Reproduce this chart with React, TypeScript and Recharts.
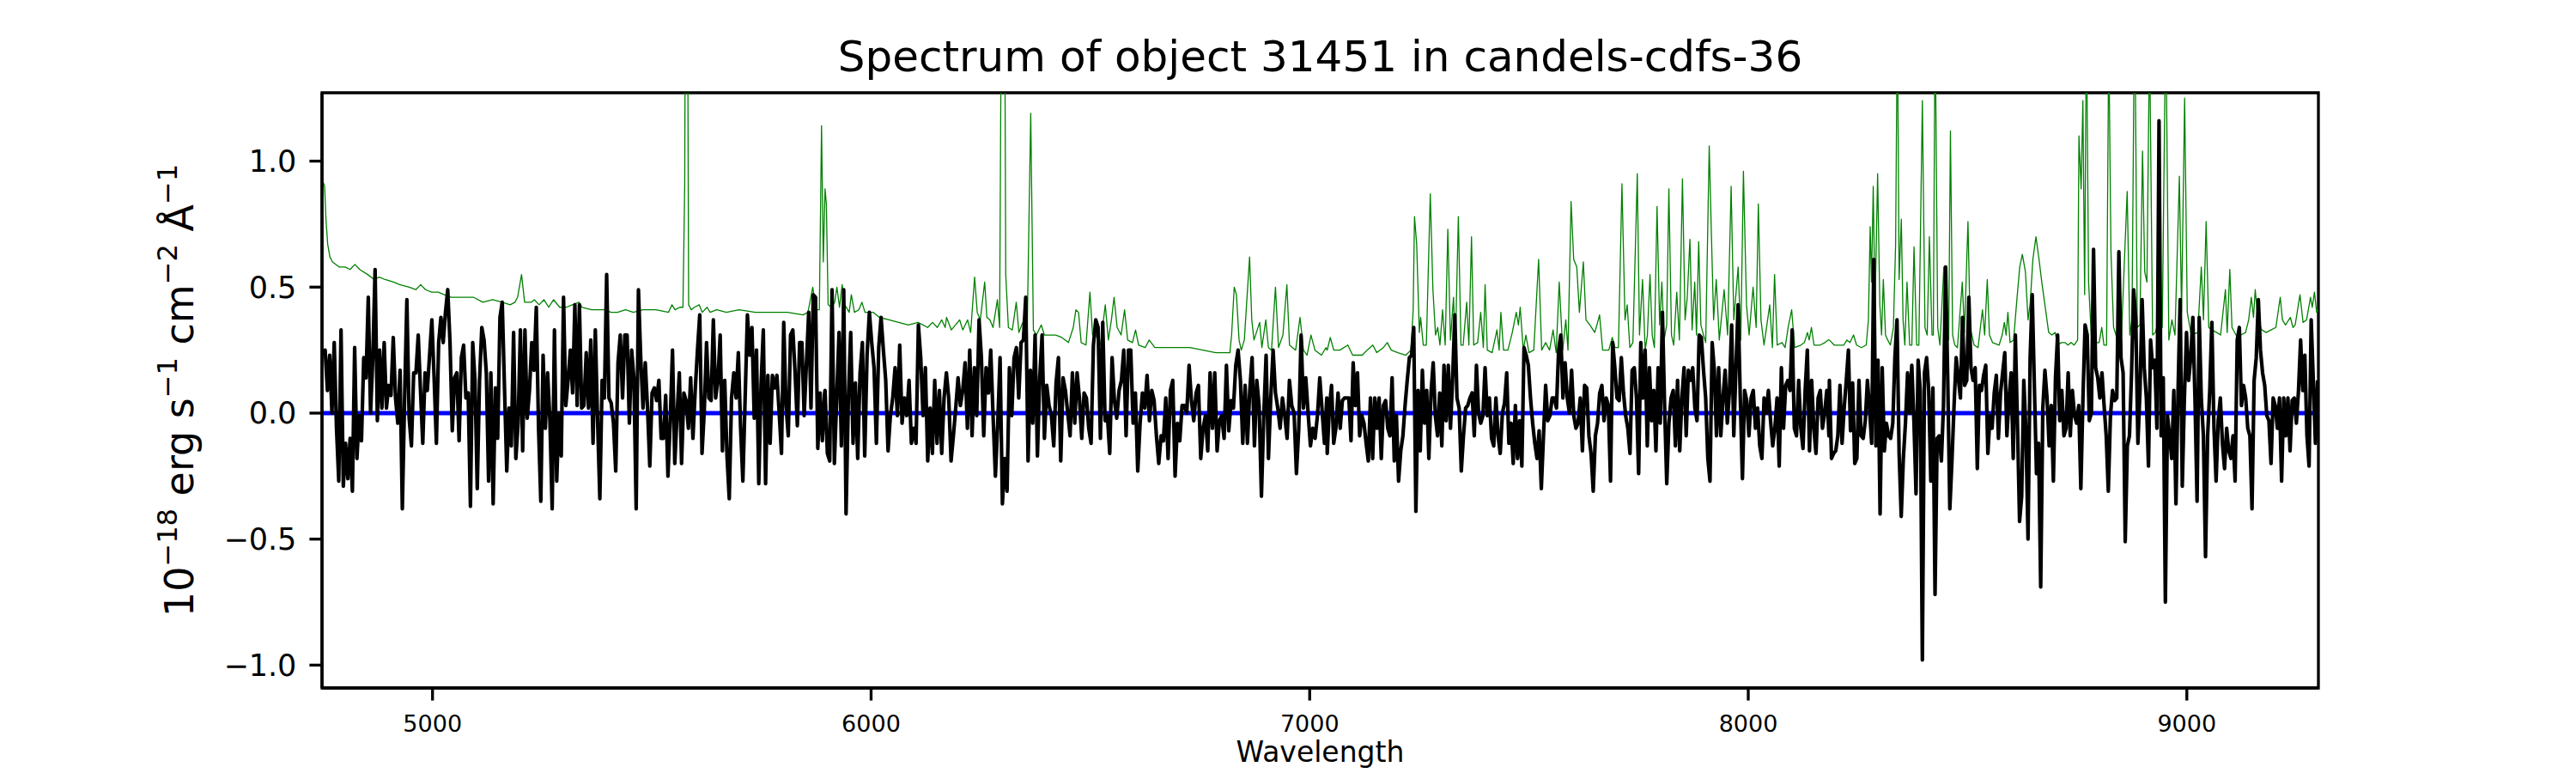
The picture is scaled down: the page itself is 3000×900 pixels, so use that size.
import React from 'react';
import { LineChart, Line, XAxis, YAxis, ReferenceArea, Label } from 'recharts';

const FONT = '"DejaVu Sans", Verdana, sans-serif';

// ---------- axes / text ----------
const titleText = 'Spectrum of object 31451 in candels-cdfs-36';
const xLabelText = 'Wavelength';
const xTicks = [5000, 6000, 7000, 8000, 9000];
const yTicks = [-1.0, -0.5, 0.0, 0.5, 1.0];
const xDomain: [number, number] = [4748, 9300];
const yDomain: [number, number] = [-1.0907, 1.2713];

// ---------- observed flux (black), four wavelength panels, evenly sampled ----------
const fluxSpanA = [4750, 5894];
const fluxA = [0.23,0.25,0.09,0.23,0.00,0.28,-0.06,-0.27,0.33,-0.29,-0.12,-0.26,-0.10,-0.31,0.26,-0.18,-0.01,-0.11,0.22,0.14,0.46,0.00,0.22,0.57,-0.03,0.25,0.02,0.28,0.02,0.11,0.07,0.30,0.06,-0.04,0.17,-0.38,0.06,0.45,-0.02,-0.13,0.16,0.16,0.31,0.09,-0.12,0.16,0.09,0.23,0.37,0.14,-0.12,0.28,0.38,0.28,0.40,0.49,0.28,-0.07,0.14,0.16,-0.11,0.22,0.27,0.06,0.08,-0.37,0.28,0.13,-0.30,0.13,0.34,0.29,0.16,-0.27,0.16,-0.36,0.10,-0.10,0.38,0.44,0.10,-0.23,0.02,-0.13,0.32,-0.18,-0.04,0.33,-0.15,0.33,-0.02,0.09,0.28,0.17,0.42,-0.06,-0.35,0.23,-0.06,0.16,-0.03,-0.38,0.33,-0.27,0.00,-0.17,0.46,0.03,0.13,0.25,0.08,0.43,0.03,0.43,0.02,0.03,0.24,0.02,0.29,-0.12,0.33,-0.03,-0.34,0.13,0.06,0.55,0.06,0.04,-0.04,-0.23,0.20,0.31,0.06,0.31,0.31,-0.04,0.25,0.14,-0.38,0.49,0.22,0.02,0.20,0.02,-0.21,0.08,0.10,0.05,0.13,-0.10,-0.10,0.07,-0.25,-0.03,0.25,-0.20,-0.01,0.16,-0.20,0.08,0.05,-0.06,0.14,-0.10,0.09,0.25,0.39,-0.16,0.01,0.28,0.06,0.05,0.37,0.06,0.13,0.31,-0.15,0.13,-0.17,-0.34,0.06,0.16,0.06,0.24,-0.06,-0.27,0.06,0.39,0.23,0.34,-0.02,0.25,-0.28,0.11,0.33,-0.28,0.15,-0.12,0.15,0.10,0.15,0.00,-0.16,0.36,0.03,-0.09,0.31,0.33,0.16,-0.05,0.28,0.28,-0.01,0.20,0.40,0.02,0.47,0.46,-0.14,0.08,-0.11,0.08];

const fluxSpanB = [5895, 7039];
const fluxB = [0.09,-0.16,-0.19,0.49,-0.20,0.06,0.32,-0.13,0.49,-0.40,0.06,0.32,-0.12,0.12,-0.18,0.16,0.28,-0.17,0.23,0.40,0.28,0.18,-0.12,0.26,0.38,0.25,0.13,-0.15,-0.01,0.06,0.18,-0.01,0.27,-0.04,0.06,-0.01,0.13,-0.12,-0.06,-0.12,0.35,0.22,-0.01,0.18,-0.19,0.02,-0.16,0.13,-0.12,0.09,-0.16,0.06,0.16,0.06,-0.19,-0.09,0.02,0.14,0.03,0.09,0.20,-0.06,0.25,-0.09,0.18,-0.01,0.37,0.22,-0.09,0.18,0.08,0.25,-0.01,-0.25,-0.04,0.22,-0.36,-0.18,-0.31,0.18,-0.01,0.22,0.26,0.06,0.28,0.29,0.46,-0.19,0.17,-0.04,0.31,-0.17,0.14,0.31,-0.10,0.11,0.03,-0.01,-0.13,0.12,0.22,-0.19,0.14,0.09,0.00,-0.09,0.16,-0.04,0.16,0.06,-0.10,0.08,0.06,-0.06,-0.12,0.27,0.37,0.34,-0.10,0.36,-0.03,-0.01,-0.16,0.22,0.05,-0.02,0.09,0.13,0.25,-0.09,0.25,0.25,-0.04,0.08,-0.23,-0.04,0.08,0.02,0.15,-0.03,0.09,0.05,-0.09,-0.20,-0.09,-0.11,0.06,-0.18,0.09,0.13,-0.25,-0.04,-0.11,0.03,0.03,0.00,0.19,0.05,-0.03,0.08,0.11,-0.18,-0.06,-0.01,-0.15,0.16,-0.06,0.16,-0.15,-0.03,-0.01,-0.10,0.19,-0.07,0.05,0.02,0.19,0.25,0.13,-0.12,0.11,-0.12,0.09,0.22,-0.13,0.13,0.03,-0.33,-0.01,0.23,-0.18,0.06,0.25,0.08,0.02,-0.06,0.06,-0.01,-0.10,0.13,0.03,0.00,-0.24,-0.06,0.31,0.02,0.14,0.00,-0.13,-0.06,-0.10,-0.01,0.14,0.01,-0.12,0.06];

const fluxSpanC = [7040, 8184];
const fluxC = [-0.16,0.02,0.11,-0.12,-0.06,0.08,-0.06,0.05,0.06,0.06,0.06,-0.11,0.20,0.03,0.16,-0.09,-0.01,-0.04,-0.12,-0.19,0.06,-0.18,0.06,-0.06,0.06,-0.18,0.03,0.05,-0.06,-0.09,0.14,-0.19,-0.01,-0.27,-0.15,-0.09,0.03,0.13,0.22,0.23,0.34,-0.39,0.09,-0.15,0.17,-0.04,0.09,-0.18,0.08,0.20,-0.01,-0.09,0.08,-0.13,0.19,-0.03,0.19,-0.06,0.14,0.39,0.06,0.02,-0.23,-0.09,0.02,0.03,0.06,0.08,-0.09,0.19,0.00,-0.04,-0.01,0.18,-0.01,0.06,-0.10,-0.13,0.06,-0.09,-0.16,0.00,0.04,0.16,-0.12,-0.04,-0.20,0.03,-0.18,-0.03,-0.21,0.26,0.23,0.19,0.06,-0.04,-0.12,-0.18,-0.07,-0.30,-0.09,0.11,-0.03,-0.01,0.06,0.06,0.02,0.25,0.31,0.06,0.20,0.06,0.00,0.17,-0.01,-0.06,-0.04,0.06,-0.15,0.11,0.10,-0.09,-0.16,-0.31,-0.09,-0.04,0.08,0.11,-0.03,0.06,0.03,-0.27,0.28,0.18,0.06,0.05,0.22,0.08,-0.01,-0.06,-0.16,0.17,0.18,0.06,-0.24,0.28,0.06,0.25,-0.13,0.18,-0.03,0.09,-0.15,0.18,-0.04,0.40,0.03,-0.28,-0.04,0.06,0.09,-0.13,0.13,-0.15,0.06,0.18,-0.09,0.17,0.13,0.18,0.02,-0.03,0.31,0.30,0.17,0.06,-0.18,-0.27,0.28,0.17,-0.09,0.18,-0.09,0.06,0.17,-0.04,0.09,0.35,-0.09,0.18,0.43,0.06,-0.26,0.09,0.05,-0.09,0.06,0.09,-0.06,0.02,-0.13,-0.18,0.06,0.00,0.09,-0.03,-0.13,-0.06,0.06,-0.21,0.18,-0.06,0.11,0.13,0.09,0.33,-0.06,-0.09,0.13,-0.06,-0.14,0.09,0.25,-0.15,0.13,-0.06,-0.16,0.06,0.09,-0.06,0.00,0.09,-0.09];

const fluxSpanD = [8185, 9298];
const fluxD = [0.13,-0.18,-0.16,-0.15,-0.09,0.11,-0.12,0.02,0.13,0.25,-0.07,0.12,-0.20,-0.18,0.13,-0.09,-0.10,-0.03,0.13,0.02,-0.12,0.61,-0.13,0.21,-0.40,0.18,-0.15,-0.04,-0.09,-0.10,-0.04,0.22,0.37,-0.16,-0.41,-0.18,-0.04,0.16,0.00,0.19,-0.03,-0.32,0.21,0.09,-0.98,0.16,0.22,0.09,-0.27,0.10,-0.72,-0.10,-0.09,-0.19,0.03,0.58,0.14,-0.38,-0.19,0.03,0.22,0.14,0.06,0.38,0.11,0.13,0.46,0.18,0.13,0.18,-0.22,0.11,0.09,0.15,0.19,-0.16,-0.01,-0.06,0.08,0.15,-0.10,0.08,0.16,0.24,-0.09,0.06,0.16,-0.18,0.31,-0.04,-0.43,-0.33,0.13,-0.07,-0.50,0.22,0.47,0.11,-0.24,-0.12,-0.69,0.02,0.17,0.06,-0.13,0.03,-0.27,0.14,0.31,-0.03,0.09,-0.09,-0.06,0.16,-0.09,0.09,-0.01,-0.04,0.03,-0.30,0.06,0.35,0.31,-0.03,0.00,0.65,0.18,0.14,0.06,0.16,0.03,-0.09,-0.31,-0.01,0.09,0.05,0.06,0.64,0.22,0.16,-0.51,-0.13,-0.09,0.16,0.49,0.37,-0.12,0.09,0.45,0.18,0.06,-0.21,0.29,0.18,0.21,-0.06,1.16,-0.09,0.14,-0.75,-0.01,-0.09,-0.18,0.09,-0.36,0.09,0.45,-0.29,0.06,0.32,0.13,0.22,0.38,0.06,-0.35,0.38,0.06,-0.09,-0.57,-0.09,0.09,0.36,-0.06,-0.27,-0.03,0.06,-0.12,-0.22,-0.06,-0.15,-0.18,-0.09,-0.27,0.29,0.34,0.03,0.11,0.06,-0.06,-0.09,-0.38,0.13,0.22,0.45,0.25,0.16,0.11,-0.01,-0.03,-0.20,0.06,0.03,-0.06,0.06,-0.27,0.06,-0.09,0.06,-0.15,0.05,0.06,-0.04,0.09,0.29,0.09,0.23,-0.09,-0.21,0.37,0.13,-0.12,0.13];

// ---------- noise / sky spectrum (green) ----------
const skyWaveA = [4750,4754,4757,4761,4766,4772,4787,4801,4812,4823,4834,4852,4867,4878,4892,4911,4925,4947,4962,4973,4984,4998,5013,5027,5042,5064,5093,5115,5137,5159,5177,5188,5194,5203,5210,5225,5232,5243,5254,5265,5276,5290,5305,5319,5334,5341,5363,5392,5407,5422,5440,5458,5480,5509,5538,5546,5553,5564,5571,5575,5577,5581,5584,5590,5597,5608,5615,5626,5633,5648,5670,5699,5736,5772,5809,5845,5856,5867,5874,5882,5887,5891];
const skyFluxA = [0.92,0.90,0.77,0.67,0.62,0.60,0.58,0.58,0.57,0.59,0.57,0.55,0.53,0.54,0.53,0.52,0.51,0.50,0.49,0.51,0.49,0.48,0.48,0.47,0.46,0.46,0.46,0.44,0.45,0.44,0.43,0.44,0.46,0.55,0.44,0.44,0.45,0.43,0.45,0.42,0.45,0.42,0.42,0.43,0.44,0.42,0.41,0.41,0.40,0.40,0.41,0.40,0.41,0.41,0.40,0.43,0.41,0.42,0.42,0.90,2.00,2.00,0.43,0.41,0.42,0.43,0.40,0.42,0.40,0.41,0.40,0.41,0.40,0.40,0.40,0.39,0.40,0.50,0.41,0.41,1.14,0.60];

const skyWaveB = [5895,5898,5902,5910,5917,5922,5928,5934,5940,5950,5955,5962,5972,5979,5986,6005,6019,6041,6063,6085,6107,6129,6140,6151,6161,6169,6172,6183,6202,6209,6220,6227,6236,6242,6249,6259,6264,6271,6278,6288,6293,6298,6304,6307,6313,6322,6331,6337,6348,6356,6364,6370,6377,6388,6395,6406,6421,6435,6450,6461,6467,6473,6479,6490,6499,6505,6512,6523,6534,6541,6548,6554,6561,6570,6578,6585,6596,6603,6610,6625,6634,6647,6669,6698,6727,6756,6786,6818,6822,6828,6833,6839,6844,6851,6863,6868,6873,6886,6891,6900,6906,6913,6922,6929,6939,6948,6954,6968,6978,6986,6994,7003,7012,7027,7037];
const skyFluxB = [0.89,0.83,0.43,0.42,0.44,0.50,0.42,0.51,0.43,0.40,0.47,0.40,0.41,0.44,0.40,0.40,0.38,0.37,0.36,0.35,0.36,0.34,0.36,0.34,0.37,0.34,0.38,0.33,0.37,0.33,0.37,0.32,0.54,0.40,0.37,0.52,0.38,0.37,0.34,0.45,0.34,2.00,2.00,0.55,0.34,0.33,0.44,0.32,0.37,0.34,1.19,0.33,0.31,0.35,0.31,0.31,0.31,0.30,0.28,0.34,0.41,0.40,0.28,0.27,0.48,0.31,0.31,0.27,0.43,0.29,0.37,0.46,0.34,0.31,0.41,0.29,0.28,0.33,0.27,0.26,0.29,0.26,0.26,0.26,0.26,0.25,0.24,0.24,0.31,0.50,0.47,0.29,0.25,0.29,0.62,0.37,0.29,0.36,0.26,0.37,0.26,0.25,0.50,0.26,0.31,0.51,0.27,0.25,0.38,0.25,0.23,0.31,0.25,0.23,0.26];

const skyWaveC = [7040,7047,7055,7069,7087,7098,7120,7131,7144,7153,7168,7177,7186,7201,7219,7231,7236,7239,7244,7250,7253,7259,7266,7275,7281,7287,7292,7297,7303,7309,7315,7321,7328,7332,7339,7345,7350,7358,7363,7369,7374,7383,7390,7396,7400,7405,7416,7427,7432,7436,7442,7452,7462,7471,7476,7480,7487,7493,7500,7511,7522,7529,7538,7547,7555,7562,7569,7577,7584,7589,7596,7602,7609,7615,7624,7630,7639,7650,7655,7661,7668,7682,7690,7696,7704,7712,7719,7724,7730,7737,7747,7752,7759,7765,7770,7776,7781,7786,7792,7798,7803,7808,7814,7819,7825,7830,7837,7843,7850,7856,7861,7867,7872,7878,7882,7887,7892,7898,7903,7911,7916,7921,7927,7934,7945,7953,7961,7967,7977,7983,7989,7996,8002,8011,8018,8023,8029,8036,8049,8055,8060,8066,8077,8084,8091,8099,8106,8120,8128,8135,8139,8144,8150,8164,8175,8182];
const skyFluxC = [0.25,0.30,0.25,0.25,0.27,0.23,0.23,0.25,0.27,0.24,0.26,0.28,0.25,0.24,0.23,0.25,0.41,0.78,0.67,0.32,0.38,0.27,0.27,0.87,0.49,0.31,0.34,0.27,0.41,0.27,0.73,0.29,0.46,0.25,0.78,0.27,0.27,0.44,0.27,0.70,0.27,0.28,0.40,0.26,0.51,0.25,0.24,0.33,0.25,0.40,0.25,0.25,0.32,0.40,0.35,0.42,0.25,0.31,0.24,0.25,0.61,0.25,0.28,0.25,0.33,0.24,0.52,0.25,0.37,0.25,0.84,0.61,0.58,0.40,0.60,0.37,0.35,0.32,0.35,0.39,0.25,0.25,0.30,0.26,0.26,0.91,0.37,0.43,0.26,0.28,0.95,0.31,0.53,0.25,0.31,0.55,0.31,0.26,0.82,0.35,0.52,0.29,0.35,0.89,0.31,0.27,0.48,0.29,0.93,0.37,0.46,0.69,0.33,0.52,0.31,0.68,0.35,0.31,0.28,1.06,0.71,0.37,0.53,0.29,0.49,0.31,0.90,0.37,0.58,0.29,0.96,0.43,0.31,0.50,0.34,0.83,0.37,0.27,0.43,0.26,0.55,0.27,0.28,0.26,0.34,0.41,0.26,0.27,0.28,0.32,0.29,0.34,0.27,0.27,0.28,0.29];

const skyWaveD = [8185,8196,8207,8218,8225,8232,8240,8247,8258,8269,8274,8278,8281,8285,8289,8295,8300,8304,8308,8313,8318,8324,8331,8336,8340,8344,8349,8353,8357,8362,8368,8373,8378,8384,8389,8397,8403,8408,8413,8419,8422,8426,8432,8437,8446,8451,8457,8461,8466,8471,8477,8488,8493,8501,8506,8515,8524,8534,8539,8545,8550,8557,8572,8579,8584,8588,8592,8597,8605,8612,8619,8625,8632,8638,8643,8649,8656,8663,8670,8678,8685,8692,8700,8705,8714,8722,8729,8736,8743,8751,8754,8759,8763,8767,8771,8776,8782,8791,8800,8806,8811,8817,8822,8827,8833,8842,8851,8864,8870,8875,8881,8887,8893,8899,8904,8909,8915,8922,8928,8937,8944,8952,8959,8966,8973,8983,8988,8995,9001,9010,9025,9033,9038,9044,9050,9057,9068,9077,9088,9092,9098,9103,9112,9123,9134,9141,9147,9152,9156,9162,9171,9181,9192,9203,9213,9218,9225,9236,9242,9247,9258,9265,9273,9282,9286,9291,9296,9300];
const skyFluxD = [0.29,0.27,0.27,0.27,0.29,0.28,0.31,0.27,0.26,0.27,0.37,0.74,0.52,0.90,0.41,0.95,0.43,0.31,0.53,0.31,0.29,0.27,0.34,0.67,1.60,0.53,0.77,0.37,0.27,0.52,0.27,0.27,0.66,0.27,0.27,1.24,0.34,0.31,0.70,0.31,0.31,1.60,0.34,0.27,0.58,0.31,0.29,1.12,0.31,0.27,0.26,0.52,0.32,0.76,0.34,0.27,0.26,0.41,0.31,0.53,0.31,0.28,0.27,0.31,0.36,0.31,0.40,0.28,0.29,0.44,0.58,0.63,0.56,0.37,0.44,0.61,0.70,0.61,0.51,0.41,0.32,0.31,0.32,0.27,0.28,0.28,0.27,0.28,0.27,0.29,1.10,0.89,1.24,0.47,1.60,0.52,0.31,0.28,0.28,0.34,0.27,0.27,1.50,0.64,0.34,0.29,0.31,0.88,0.31,0.37,1.70,0.34,0.35,1.04,0.56,0.52,1.50,0.31,0.32,0.37,0.34,1.60,0.29,0.37,0.31,0.94,0.40,1.25,0.40,0.31,0.32,0.58,0.37,0.76,0.34,0.33,0.32,0.31,0.49,0.32,0.57,0.34,0.31,0.31,0.32,0.37,0.46,0.38,0.49,0.37,0.33,0.32,0.33,0.34,0.46,0.37,0.35,0.38,0.34,0.35,0.47,0.36,0.37,0.46,0.42,0.48,0.40,0.41];

// ---------- continuum model (blue) ----------
const modelWave = [4750, 9300];
const modelFlux = [0.0, 0.0];

// ---------- build series ----------
type Pt = { w: number; f: number };
const evenPanel = (vals: number[], span: number[]): Pt[] => {
  const step = (span[1] - span[0]) / (vals.length - 1);
  return vals.map((f, i) => ({ w: span[0] + i * step, f }));
};
const pairSeries = (waves: number[], vals: number[]): Pt[] => waves.map((w, i) => ({ w, f: vals[i] }));

const fluxData: Pt[] = [
  ...evenPanel(fluxA, fluxSpanA),
  ...evenPanel(fluxB, fluxSpanB),
  ...evenPanel(fluxC, fluxSpanC),
  ...evenPanel(fluxD, fluxSpanD),
];
const skyData: Pt[] = [
  ...pairSeries(skyWaveA, skyFluxA),
  ...pairSeries(skyWaveB, skyFluxB),
  ...pairSeries(skyWaveC, skyFluxC),
  ...pairSeries(skyWaveD, skyFluxD),
];
const modelData: Pt[] = pairSeries(modelWave, modelFlux);

// ---------- layout ----------
const W = 3000;
const H = 900;
const Y_AXIS_W = 100;
const X_AXIS_H = 60;
const MARGIN = { top: 108, right: 300, bottom: 900 - 801 - X_AXIS_H, left: 375 - Y_AXIS_W };
const SPINE = 3.33;
const TICK_LEN = 14.6;

const fmtY = (v: number) => (v < 0 ? '\u2212' : '') + Math.abs(v).toFixed(1);

const renderXLabels = (props: any) => {
  const vb = props.viewBox || { x: 375, y: 801, width: 2325, height: X_AXIS_H };
  const cx = vb.x + vb.width / 2;
  return (
    <g>
      <text x={cx} y={vb.y + 86} textAnchor="middle" fontFamily={FONT} fontSize={33} fill="#000">
        {xLabelText}
      </text>
      <text x={cx} y={MARGIN.top - 25} textAnchor="middle" fontFamily={FONT} fontSize={50} fill="#000">
        {titleText}
      </text>
    </g>
  );
};

const renderYLabel = (props: any) => {
  const vb = props.viewBox || { x: MARGIN.left, y: 108, width: Y_AXIS_W, height: 693 };
  const bx = vb.x + vb.width - 150;
  const cy = vb.y + vb.height / 2;
  const sup = 32;
  const up = 19;
  return (
    <text
      transform={`translate(${bx},${cy}) rotate(-90)`}
      textAnchor="middle"
      fontFamily={FONT}
      fontSize={46}
      fill="#000"
      style={{ whiteSpace: 'pre' }}
    >
      <tspan>10</tspan>
      <tspan fontSize={sup} dy={-up}>{'\u221218'}</tspan>
      <tspan dy={up}>{' erg s'}</tspan>
      <tspan fontSize={sup} dy={-up}>{'\u22121'}</tspan>
      <tspan dy={up}>{' cm'}</tspan>
      <tspan fontSize={sup} dy={-up}>{'\u22122'}</tspan>
      <tspan dy={up}>{' \u00C5'}</tspan>
      <tspan fontSize={sup} dy={-up}>{'\u22121'}</tspan>
    </text>
  );
};

export default function App() {
  return (
    <div style={{ position: 'absolute', left: 0, top: 0, width: W, height: H, background: '#fff' }}>
      <LineChart width={W} height={H} margin={MARGIN}>
        <XAxis
          type="number"
          dataKey="w"
          domain={xDomain}
          allowDataOverflow
          ticks={xTicks}
          interval={0}
          height={X_AXIS_H}
          tickSize={TICK_LEN}
          tickMargin={17}
          axisLine={{ stroke: '#000', strokeWidth: SPINE }}
          tickLine={{ stroke: '#000', strokeWidth: SPINE }}
          tick={{ fill: '#000', fontSize: 27, fontFamily: FONT }}
        >
          <Label content={renderXLabels} />
        </XAxis>
        <YAxis
          type="number"
          dataKey="f"
          domain={yDomain}
          allowDataOverflow
          ticks={yTicks}
          interval={0}
          width={Y_AXIS_W}
          tickSize={TICK_LEN}
          tickMargin={15}
          tickFormatter={fmtY}
          axisLine={{ stroke: '#000', strokeWidth: SPINE }}
          tickLine={{ stroke: '#000', strokeWidth: SPINE }}
          tick={{ fill: '#000', fontSize: 35, fontFamily: FONT }}
        >
          <Label content={renderYLabel} />
        </YAxis>
        <Line
          data={skyData}
          dataKey="f"
          stroke="#008000"
          strokeWidth={1.3}
          dot={false}
          activeDot={false}
          strokeLinejoin="round"
          isAnimationActive={false}
        />
        <Line
          data={modelData}
          dataKey="f"
          stroke="#0000ff"
          strokeWidth={5}
          dot={false}
          activeDot={false}
          isAnimationActive={false}
        />
        <Line
          data={fluxData}
          dataKey="f"
          stroke="#000000"
          strokeWidth={4.2}
          dot={false}
          activeDot={false}
          strokeLinejoin="round"
          isAnimationActive={false}
        />
        <ReferenceArea
          x1={xDomain[0]}
          x2={xDomain[1]}
          y1={yDomain[0]}
          y2={yDomain[1]}
          fill="none"
          fillOpacity={0}
          stroke="#000"
          strokeWidth={SPINE}
          ifOverflow="visible"
        />
      </LineChart>
    </div>
  );
}
